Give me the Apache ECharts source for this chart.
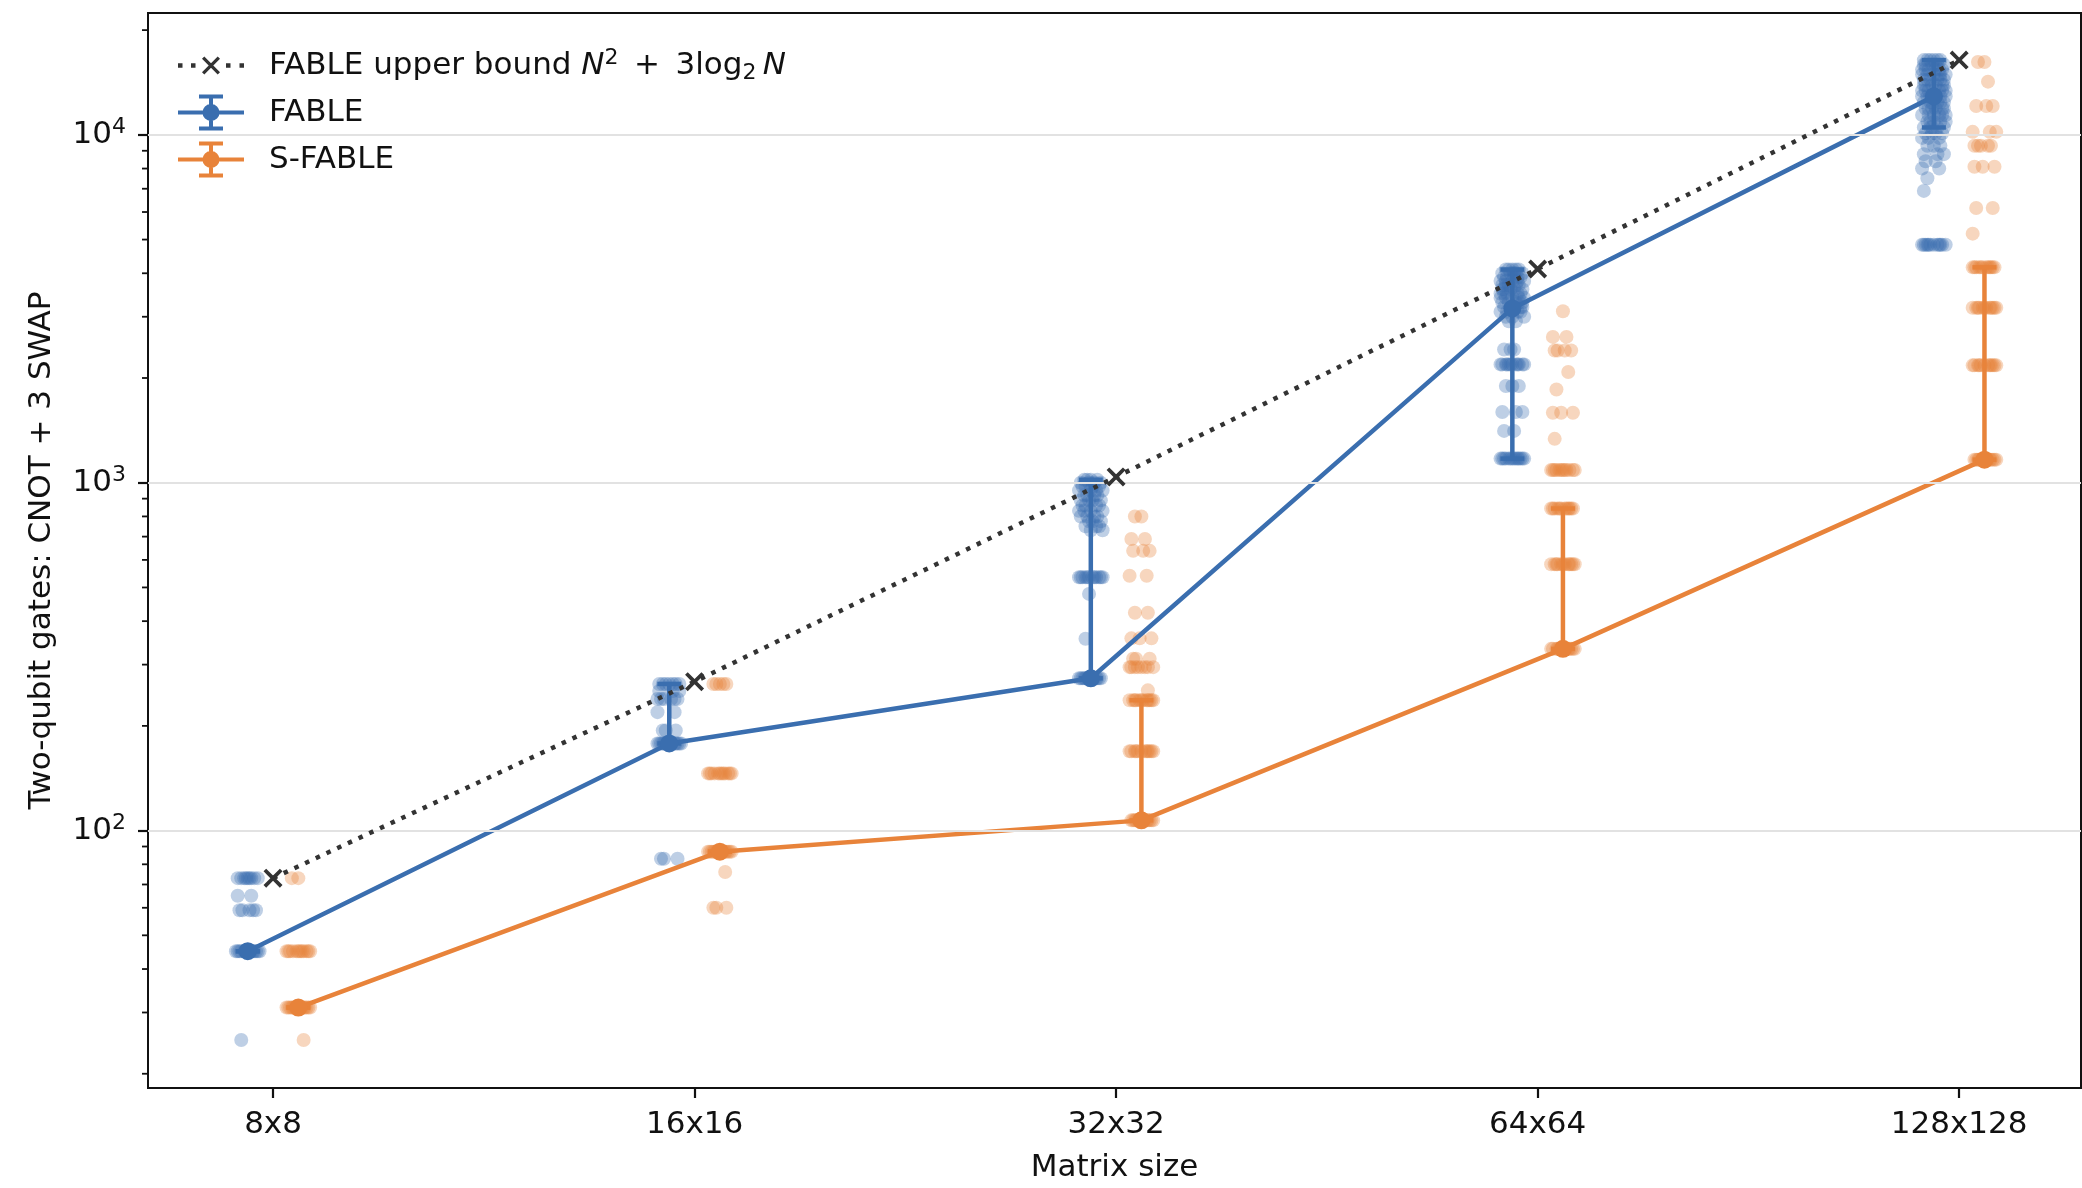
<!DOCTYPE html>
<html>
<head>
<meta charset="utf-8">
<script src="https://cdn.jsdelivr.net/npm/echarts@6/dist/echarts.min.js"></script>
<style>
  html, body { margin: 0; padding: 0; background: #fff; }
  #chart { width: 2082px; height: 1188px; }
</style>
</head>
<body>
<div id="chart"></div>
<script>
const categories = ['8x8', '16x16', '32x32', '64x64', '128x128'];
const upperBound = [73, 268, 1039, 4114, 16405];
const fableEstimate = [45, 178, 274, 3170, 12900];
const sfableEstimate = [31, 87, 107, 333, 1165];
const fableErrLow = [45, 178, 274, 1173, 10500];
const fableErrHigh = [45, 264, 1020, 4100, 16400];
const sfableErrLow = [31, 87, 107, 333, 1165];
const sfableErrHigh = [31, 87, 237, 843, 4160];
const yTickValues = [100, 1000, 10000];
const yMinorTickValues = [20, 30, 40, 50, 60, 70, 80, 90,
  200, 300, 400, 500, 600, 700, 800, 900,
  2000, 3000, 4000, 5000, 6000, 7000, 8000, 9000, 20000];

// strip points per matrix size: [gate count, number of runs at that count]
const fableStrip = [
  [[73, 9], [65, 2], [59, 5], [45, 14], [25, 1]],
  [[264, 7], [252, 3], [239, 6], [219, 2], [194, 3], [178, 14], [83, 3]],
  [[1020, 4], [1000, 4], [975, 4], [950, 4], [920, 4], [890, 4], [860, 4], [830, 4], [800, 4],
   [775, 3], [750, 3], [730, 2], [535, 12], [479, 1], [356, 1], [274, 14]],
  [[4100, 5], [4000, 5], [3900, 5], [3800, 5], [3700, 5], [3600, 5], [3500, 5], [3400, 5],
   [3300, 5], [3200, 5], [3100, 4], [3000, 3], [2911, 2], [2415, 3], [2188, 12], [1896, 3],
   [1597, 3], [1409, 2], [1173, 14]],
  [[16400, 6], [15900, 6], [15400, 6], [14900, 6], [14400, 6], [13900, 6], [13400, 6], [12900, 6],
   [12400, 6], [11900, 6], [11400, 6], [10900, 5], [10500, 5], [10100, 4], [9800, 3], [9300, 3],
   [8800, 3], [8400, 2], [8000, 2], [7500, 1], [6900, 1], [4830, 12]]
];
const sfableStrip = [
  [[73, 2], [45, 12], [31, 14], [25, 1]],
  [[264, 5], [146, 12], [87, 14], [76, 1], [60, 3]],
  [[800, 2], [689, 2], [637, 3], [540, 2], [423, 2], [357, 3], [312, 3], [295, 8], [253, 1],
   [237, 12], [169, 12], [107, 14]],
  [[3110, 1], [2625, 2], [2400, 4], [2080, 1], [1853, 1], [1589, 3], [1337, 1], [1088, 12],
   [843, 12], [583, 12], [333, 14]],
  [[16200, 2], [14220, 1], [12100, 3], [10200, 3], [9300, 5], [8100, 3], [6160, 2], [5200, 1],
   [4160, 12], [3185, 12], [2175, 12], [1165, 14]]
];

const BLUE = '#3a6eaf';
const ORANGE = '#e8833a';
const INK = '#111';
const FONT = 'DejaVu Sans';
const X_MIN = -0.2966;
const X_MAX = 4.289;
const DODGE = 0.06;
const JITTER = [0, -0.55, 0.55, -0.3, 0.3, -0.85, 0.85, -0.15, 0.15, -0.7, 0.7, -0.45, 0.45, -1, 1];
const boundName = 'FABLE upper bound';

const stripPoints = (groups, shift) => {
  const pts = [];
  groups.forEach((cat, i) => {
    cat.forEach(([v, n], g) => {
      for (let k = 0; k < n; k++) {
        const j = JITTER[(g * 4 + k) % JITTER.length] * 0.028;
        pts.push([i + shift + j, v]);
      }
    });
  });
  return pts;
};

const errorBarItem = (params, api) => {
  const x = api.value(0);
  const lo = api.coord([x, api.value(1)]);
  const hi = api.coord([x, api.value(2)]);
  const style = { stroke: api.visual('color'), lineWidth: 4.5 };
  return {
    type: 'group',
    children: [
      { type: 'line', shape: { x1: lo[0], y1: lo[1], x2: hi[0], y2: hi[1] }, style },
      { type: 'line', shape: { x1: lo[0] - 12, y1: lo[1], x2: lo[0] + 12, y2: lo[1] }, style },
      { type: 'line', shape: { x1: hi[0] - 12, y1: hi[1], x2: hi[0] + 12, y2: hi[1] }, style }
    ]
  };
};

const minorTickItem = (params, api) => {
  const p = api.coord([api.value(0), api.value(1)]);
  return {
    type: 'line',
    shape: { x1: p[0] - 6, y1: p[1], x2: p[0], y2: p[1] },
    style: { stroke: INK, lineWidth: 1.8 }
  };
};

// icons for the legend (errorbar handle, dotted line with x)
const xPath = 'M0,14 L14,0 L50,36 L86,0 L100,14 L64,50 L100,86 L86,100 L50,64 L14,100 L0,86 L36,50 Z';
const errIcon = 'path://M0,16 H66 V20 H0 Z M31,2 H35 V34 H31 Z M21,0 H45 V4 H21 Z M21,32 H45 V36 H21 Z ' +
  'M41.5,18 A8.5,8.5 0 1,1 24.5,18 A8.5,8.5 0 1,1 41.5,18 Z';
const boundIcon = 'path://M33,0 H33.01 V0.01 H33 Z M33,35.99 H33.01 V36 H33 Z ' +
  'M0,15.75 H4.5 V20.25 H0 Z M13,15.75 H17.5 V20.25 H13 Z M48,15.75 H52.5 V20.25 H48 Z M61.5,15.75 H66 V20.25 H61.5 Z ' +
  'M24,11.3 L26.3,9 L33,15.7 L39.7,9 L42,11.3 L35.3,18 L42,24.7 L39.7,27 L33,20.3 L26.3,27 L24,24.7 L30.7,18 Z';

const chart = echarts.init(document.getElementById('chart'));

chart.setOption({
  animation: false,
  backgroundColor: '#fff',
  grid: {
    left: 148, right: 1, top: 13, bottom: 98,
    show: true, borderColor: INK, borderWidth: 2, backgroundColor: 'transparent'
  },
  legend: {
    orient: 'vertical',
    left: 173,
    top: 42,
    itemWidth: 88,
    itemHeight: 36,
    itemGap: 10,
    selectedMode: false,
    symbolKeepAspect: true,
    itemStyle: { borderWidth: 0 },
    textStyle: {
      fontFamily: FONT, fontSize: 31, color: INK, lineHeight: 37, padding: [0, 0, 0, 9],
      rich: {
        i: { fontFamily: FONT, fontSize: 31, fontStyle: 'italic', color: INK, lineHeight: 37 },
        sup: { fontFamily: FONT, fontSize: 22, color: INK, lineHeight: 15, verticalAlign: 'top' },
        sub: { fontFamily: FONT, fontSize: 22, color: INK, lineHeight: 21, verticalAlign: 'bottom' }
      }
    },
    formatter: name => name === boundName
      ? 'FABLE upper bound {i|N}{sup|2}\u2002+\u20023log{sub|2}\u2009{i|N}'
      : name,
    data: [
      { name: boundName, icon: boundIcon, itemStyle: { color: '#333' } },
      { name: 'FABLE', icon: errIcon },
      { name: 'S-FABLE', icon: errIcon }
    ]
  },
  xAxis: {
    type: 'value',
    min: X_MIN,
    max: X_MAX,
    name: 'Matrix size',
    nameLocation: 'middle',
    nameGap: 64,
    nameTextStyle: { fontFamily: FONT, fontSize: 31, color: INK },
    axisLine: { show: true, onZero: false, lineStyle: { color: INK, width: 2 } },
    axisTick: {
      show: true, length: 10, customValues: categories.map((c, i) => i),
      lineStyle: { color: INK, width: 2.2 }
    },
    axisLabel: {
      margin: 21, fontFamily: FONT, fontSize: 31, color: INK,
      customValues: categories.map((c, i) => i),
      formatter: v => categories[Math.round(v)] || ''
    },
    splitLine: { show: false }
  },
  yAxis: {
    type: 'log',
    logBase: 10,
    min: 18.2,
    max: 22400,
    name: 'Two-qubit gates: CNOT + 3 SWAP',
    nameLocation: 'middle',
    nameGap: 91,
    nameTextStyle: { fontFamily: FONT, fontSize: 31, color: INK },
    axisLine: { show: true, onZero: false, lineStyle: { color: INK, width: 2 } },
    axisTick: {
      show: true, length: 10, customValues: yTickValues,
      lineStyle: { color: INK, width: 2.2 }
    },
    axisLabel: {
      margin: 22, color: INK,
      customValues: yTickValues,
      formatter: v => '{b|10}{s|' + Math.round(Math.log10(v)) + '}',
      rich: {
        b: { fontFamily: FONT, fontSize: 31, color: INK, lineHeight: 37 },
        s: { fontFamily: FONT, fontSize: 22, color: INK, lineHeight: 15, verticalAlign: 'top' }
      }
    },
    splitLine: { show: false },
    minorTick: { show: false }
  },
  series: [
    {
      name: 'gridlines',
      type: 'line',
      z: 1,
      data: [],
      markLine: {
        silent: true,
        symbol: 'none',
        label: { show: false },
        lineStyle: { color: '#e2e2e2', width: 2, type: 'solid' },
        data: yTickValues.map(v => ({ yAxis: v }))
      }
    },
    {
      name: 'FABLE points',
      type: 'scatter',
      silent: true,
      z: 2,
      symbol: 'circle',
      symbolSize: 14,
      itemStyle: { color: BLUE, opacity: 0.33 },
      data: stripPoints(fableStrip, -DODGE)
    },
    {
      name: 'S-FABLE points',
      type: 'scatter',
      silent: true,
      z: 2,
      symbol: 'circle',
      symbolSize: 14,
      itemStyle: { color: ORANGE, opacity: 0.33 },
      data: stripPoints(sfableStrip, DODGE)
    },
    {
      name: 'FABLE errors',
      type: 'custom',
      z: 3,
      itemStyle: { color: BLUE },
      encode: { x: 0, y: [1, 2] },
      renderItem: errorBarItem,
      data: categories.map((c, i) => [i - DODGE, fableErrLow[i], fableErrHigh[i]])
    },
    {
      name: 'S-FABLE errors',
      type: 'custom',
      z: 3,
      itemStyle: { color: ORANGE },
      encode: { x: 0, y: [1, 2] },
      renderItem: errorBarItem,
      data: categories.map((c, i) => [i + DODGE, sfableErrLow[i], sfableErrHigh[i]])
    },
    {
      name: 'FABLE',
      type: 'line',
      z: 4,
      symbol: 'circle',
      symbolSize: 18,
      itemStyle: { color: BLUE, borderWidth: 0 },
      lineStyle: { color: BLUE, width: 4.5 },
      data: categories.map((c, i) => [i - DODGE, fableEstimate[i]])
    },
    {
      name: 'S-FABLE',
      type: 'line',
      z: 4,
      symbol: 'circle',
      symbolSize: 18,
      itemStyle: { color: ORANGE, borderWidth: 0 },
      lineStyle: { color: ORANGE, width: 4.5 },
      data: categories.map((c, i) => [i + DODGE, sfableEstimate[i]])
    },
    {
      name: boundName,
      type: 'line',
      z: 5,
      symbol: 'path://' + xPath,
      symbolSize: 19,
      itemStyle: { color: '#333', borderWidth: 0 },
      lineStyle: { color: '#333', width: 4.5, type: [4.5, 7.3], cap: 'butt' },
      data: categories.map((c, i) => [i, upperBound[i]])
    },
    {
      name: 'minor ticks',
      type: 'custom',
      silent: true,
      clip: false,
      z: 6,
      encode: { x: 0, y: 1 },
      renderItem: minorTickItem,
      data: yMinorTickValues.map(v => [X_MIN, v])
    }
  ]
});
</script>
</body>
</html>
